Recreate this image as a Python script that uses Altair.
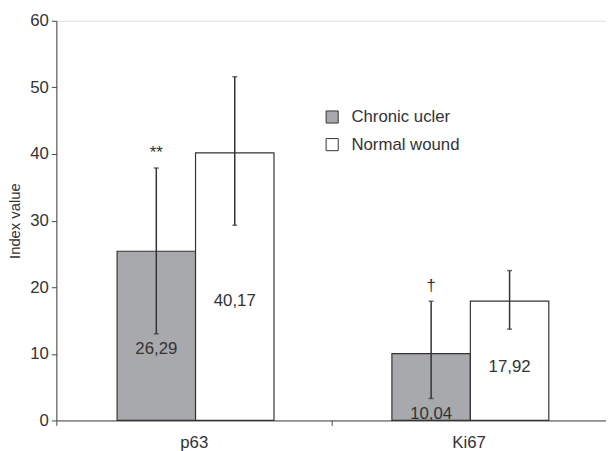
import altair as alt
import pandas as pd

markers = ["p63", "Ki67"]
groups = ["Chronic ucler", "Normal wound"]
means = {"Chronic ucler": [25.4, 10.04], "Normal wound": [40.17, 17.92]}
err_low = {"Chronic ucler": [13.0, 3.3], "Normal wound": [29.3, 13.7]}
err_high = {"Chronic ucler": [37.9, 17.9], "Normal wound": [51.6, 22.5]}
value_labels = {"Chronic ucler": ["26,29", "10,04"], "Normal wound": ["40,17", "17,92"]}
signif = {"Chronic ucler": ["**", "\u2020"], "Normal wound": ["", ""]}

rows = []
for g in groups:
    for i, m in enumerate(markers):
        mu = means[g][i]
        lo = err_low[g][i]
        rows.append({
            "marker": m, "group": g, "mean": mu, "lo": lo, "hi": err_high[g][i],
            "label": value_labels[g][i], "sig": signif[g][i],
            "label_y": min(mu * 0.445, lo - 2.3),
        })
df = pd.DataFrame(rows)

FONT = "Liberation Sans"
DARK = "#333333"
FS = 17

x = alt.X("marker:N", sort=markers, title=None,
          scale=alt.Scale(paddingInner=0, paddingOuter=0),
          axis=alt.Axis(tickBand="extent", labelAngle=0,
                        tickSize=5, labelPadding=9, labelFontSize=FS,
                        labelColor=DARK, domainColor="#444444", tickColor="#444444"))
xo = alt.XOffset("group:N", sort=groups,
                 scale=alt.Scale(paddingInner=0, paddingOuter=0.7516, align=0.515))
y = alt.Y("mean:Q", title="Index value",
          scale=alt.Scale(domain=[0, 60]),
          axis=alt.Axis(values=list(range(0, 61, 10)), grid=False, tickSize=5,
                        labelFontSize=FS, labelColor=DARK, titleFontSize=15,
                        titleFontWeight="normal", titleColor=DARK, titlePadding=7,
                        domainColor="#444444", tickColor="#444444", labelPadding=3))

base = alt.Chart(df)

bars = base.mark_bar(stroke=DARK, strokeWidth=1.2).encode(
    x=x, xOffset=xo, y=y,
    fill=alt.Fill("group:N", sort=groups,
                  scale=alt.Scale(domain=groups, range=["#a7a9ac", "#ffffff"]),
                  legend=alt.Legend(title=None, orient="none", legendX=271, legendY=89,
                                    symbolType="square", symbolSize=150,
                                    symbolStrokeColor=DARK, symbolStrokeWidth=1,
                                    labelFontSize=FS, labelColor=DARK, labelFont=FONT,
                                    rowPadding=10, labelOffset=11)),
)

rules = base.mark_rule(color=DARK, strokeWidth=1.5).encode(
    x=x, xOffset=xo, y=alt.Y("lo:Q"), y2="hi:Q")
cap_lo = base.mark_tick(color=DARK, thickness=1.5, size=5).encode(
    x=x, xOffset=xo, y=alt.Y("lo:Q"))
cap_hi = base.mark_tick(color=DARK, thickness=1.5, size=5).encode(
    x=x, xOffset=xo, y=alt.Y("hi:Q"))

vals = base.mark_text(fontSize=FS, color=DARK, font=FONT, baseline="middle").encode(
    x=x, xOffset=xo, y=alt.Y("label_y:Q"), text="label:N")
sigs = base.mark_text(fontSize=FS, color=DARK, font=FONT, baseline="middle", dy=-15).encode(
    x=x, xOffset=xo, y=alt.Y("hi:Q"), text="sig:N")

chart = alt.layer(bars, rules, cap_lo, cap_hi, vals, sigs).properties(
    width=557, height=405,
    autosize=alt.AutoSizeParams(type="none"),
    padding={"left": 49, "top": 10, "right": 0, "bottom": 28},
).configure_view(stroke=None).configure(
    font=FONT
).configure_axis(labelFont=FONT, titleFont=FONT)

chart.save("out.html", embed_options={"renderer": "svg", "actions": False})
